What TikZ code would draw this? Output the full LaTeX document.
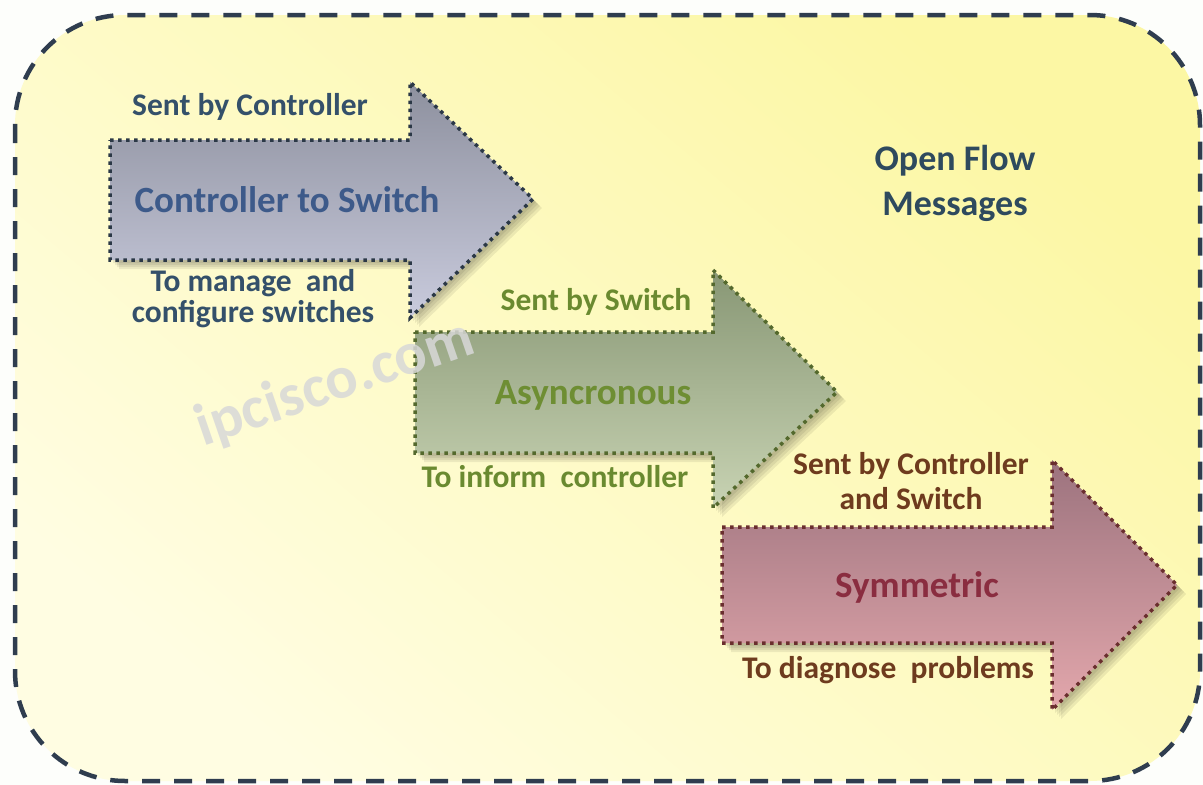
\documentclass[tikz,border=0pt]{standalone}
\usepackage{fontspec}
\setmainfont{Carlito}
\usetikzlibrary{shadings}
\definecolor{bgout}{HTML}{FDFEFB}
\definecolor{ylwA}{HTML}{FCF7A4}
\definecolor{ylwB}{HTML}{FFFDE2}
\definecolor{frame}{HTML}{2F3D4F}
\definecolor{aTop}{HTML}{8D909E}
\definecolor{aBot}{HTML}{C9CBDD}
\definecolor{aLine}{HTML}{2B3846}
\definecolor{aMain}{HTML}{3D5A8A}
\definecolor{aSub}{HTML}{34506A}
\definecolor{bTop}{HTML}{889775}
\definecolor{bBot}{HTML}{C8D3B3}
\definecolor{bLine}{HTML}{54692D}
\definecolor{bMain}{HTML}{6E8E33}
\definecolor{bSub}{HTML}{6A8A30}
\definecolor{cTop}{HTML}{9C737E}
\definecolor{cBot}{HTML}{E3A7AC}
\definecolor{cLine}{HTML}{6A2E2E}
\definecolor{cMain}{HTML}{8A2D40}
\definecolor{cSub}{HTML}{6E3B1E}
\definecolor{titlec}{HTML}{2E4A5E}
\definecolor{wmc}{HTML}{D8D8D8}
\tikzset{
  arrowbody/.style={line width=3.5pt, dash pattern=on 3.5pt off 4.5pt},
  shadowlayer/.style={fill=black, opacity=0.07},
  subtext/.style={font=\bfseries\fontsize{31.5}{35}\selectfont, align=center, inner sep=0pt},
  maintext/.style={font=\bfseries\fontsize{37}{42}\selectfont, align=center, inner sep=0pt},
}
\begin{document}
\begin{tikzpicture}[x=1pt,y=-1pt]
\useasboundingbox (0,0) rectangle (1203,785);
\fill[bgout] (0,0) rectangle (1203,785);
% background panel
\shade[top color=ylwA, bottom color=ylwB, shading angle=-40, rounded corners=110pt] (15,15) rectangle (1200,781);
% arrow 1 shadow + body
\foreach \d in {3,5,7,9}{
  \fill[shadowlayer] ([shift={(\d,\d)}]110,140) -- ++(300,0) -- ++(0,-58) -- ++(123,117) -- ++(-123,119) -- ++(0,-58) -- ++(-300,0) -- cycle;
}
\shade[top color=aTop, bottom color=aBot] (110,140) -- (410,140) -- (410,82) -- (533,199) -- (410,318) -- (410,260) -- (110,260) -- cycle;
\draw[arrowbody, aLine] (110,140) -- (410,140) -- (410,82) -- (533,199) -- (410,318) -- (410,260) -- (110,260) -- cycle;
% arrow 2
\foreach \d in {3,5,7,9}{
  \fill[shadowlayer] ([shift={(\d,\d)}]415,332) -- ++(298,0) -- ++(0,-62) -- ++(124,122) -- ++(-124,116) -- ++(0,-55) -- ++(-298,0) -- cycle;
}
\shade[top color=bTop, bottom color=bBot] (415,332) -- (713,332) -- (713,270) -- (837,392) -- (713,508) -- (713,453) -- (415,453) -- cycle;
\draw[arrowbody, bLine] (415,332) -- (713,332) -- (713,270) -- (837,392) -- (713,508) -- (713,453) -- (415,453) -- cycle;
% arrow 3
\foreach \d in {3,5,7,9}{
  \fill[shadowlayer] ([shift={(\d,\d)}]722,527) -- ++(330,0) -- ++(0,-67) -- ++(125,125) -- ++(-125,125) -- ++(0,-67) -- ++(-330,0) -- cycle;
}
\shade[top color=cTop, bottom color=cBot] (722,527) -- (1052,527) -- (1052,460) -- (1177,585) -- (1052,710) -- (1052,643) -- (722,643) -- cycle;
\draw[arrowbody, cLine] (722,527) -- (1052,527) -- (1052,460) -- (1177,585) -- (1052,710) -- (1052,643) -- (722,643) -- cycle;
% watermark (on top of the arrows)
\node[font=\bfseries\fontsize{60}{62}\selectfont, text=wmc, text opacity=0.85, rotate=19, inner sep=0pt] (wm) at (335,384) {ipcisco.com};
% frame
\draw[frame, line width=4.5pt, dash pattern=on 18pt off 14pt, rounded corners=110pt] (15,15) rectangle (1200,781);
% texts
\node[maintext, text=titlec, font=\bfseries\fontsize{36}{45}\selectfont] (title) at (955,183) {Open Flow\\Messages};
\node[subtext, text=aSub] (a1) at (250,107) {Sent by Controller};
\node[maintext, text=aMain] (a2) at (287,200) {Controller to Switch};
\node[subtext, text=aSub, font=\bfseries\fontsize{31.5}{31}\selectfont] (a3) at (253,299) {To manage\ \ and\\configure switches};
\node[subtext, text=bSub] (b1) at (596,302) {Sent by Switch};
\node[maintext, text=bMain] (b2) at (593,395) {Asyncronous};
\node[subtext, text=bSub] (b3) at (555,477) {To inform\ \ controller};
\node[subtext, text=cSub] (c1) at (911,481) {Sent by Controller\\and Switch};
\node[maintext, text=cMain] (c2) at (917,587) {Symmetric};
\node[subtext, text=cSub] (c3) at (888,670) {To diagnose\ \ problems};
\end{tikzpicture}
\end{document}
